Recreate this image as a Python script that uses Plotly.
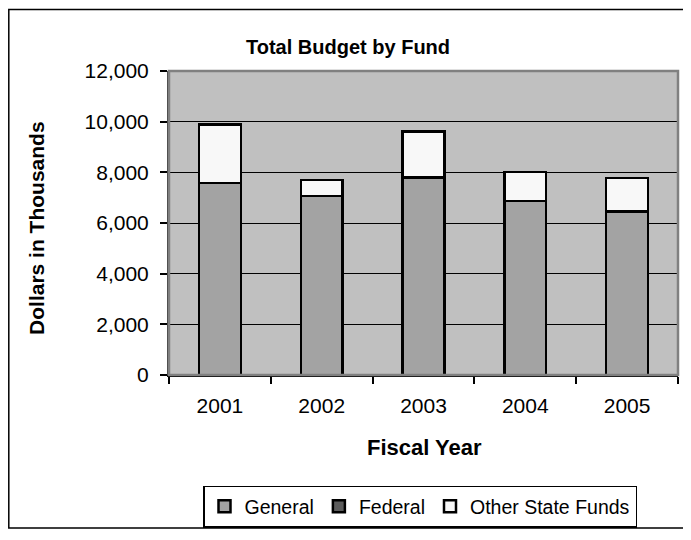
import plotly.graph_objects as go

years = ["2001", "2002", "2003", "2004", "2005"]
general = [7570, 7060, 7800, 6860, 6450]
federal = [0, 0, 0, 0, 0]
other_state = [2310, 640, 1820, 1160, 1320]

chart_title = "Total Budget by Fund"
x_title = "Fiscal Year"
y_title = "Dollars in Thousands"

FONT = "Arial, Liberation Sans, sans-serif"
OFF = 8  # browser body margin
W, H = 691 - OFF, 540 - OFF
# plot area in window pixels
WL, WR, WT, WB = 169, 678, 71, 379
L, R, T, B = WL - OFF, WR - OFF, WT - OFF, WB - OFF


def px_x(p):
    """window pixel x -> paper"""
    return (p - OFF - L) / (R - L)


def px_y(p):
    """window pixel y -> paper"""
    return (B - (p - OFF)) / (B - T)


fig = go.Figure()
fig.add_trace(go.Bar(x=years, y=general, name="General",
                     marker=dict(color="#a3a3a3", line=dict(color="black", width=2.5))))
fig.add_trace(go.Bar(x=years, y=federal, name="Federal",
                     marker=dict(color="#5c5c5c", line=dict(color="black", width=2.5))))
fig.add_trace(go.Bar(x=years, y=other_state, name="Other State Funds",
                     marker=dict(color="#f8f8f8", line=dict(color="black", width=2.5))))

fig.update_layout(
    width=W, height=H,
    margin=dict(l=L, r=W - R, t=T, b=H - B, pad=0),
    barmode="stack",
    bargap=0.59,
    paper_bgcolor="white",
    plot_bgcolor="#c0c0c0",
    font=dict(family=FONT, size=21, color="black"),
    showlegend=True,
    legend=dict(orientation="h", x=px_x(420), xanchor="center",
                y=px_y(491), yanchor="top", traceorder="normal",
                bordercolor="black", borderwidth=1.5,
                font=dict(size=19.5), itemwidth=30,
                tracegroupgap=0, bgcolor="white"),
    xaxis=dict(type="category", tickson="boundaries", ticks="outside",
               ticklen=7, tickwidth=1.5, tickcolor="black",
               showline=True, linecolor="black", linewidth=2,
               showgrid=False, ticklabelstandoff=11,
               tickfont=dict(size=21)),
    yaxis=dict(range=[0, 12000], dtick=2000, tickformat=",",
               ticks="outside", ticklen=7, tickwidth=1.5, tickcolor="black",
               showline=True, linecolor="#404040", linewidth=2,
               showgrid=True, gridcolor="black", gridwidth=1,
               zeroline=False, ticklabelstandoff=7,
               tickfont=dict(size=21)),
    shapes=[
        dict(type="rect", xref="paper", yref="paper", x0=0, x1=1, y0=0, y1=1,
             line=dict(color="#808080", width=2.5), layer="above"),
        dict(type="rect", xref="paper", yref="paper",
             x0=px_x(OFF + 0.8), x1=px_x(685), y0=px_y(OFF + 0.8), y1=px_y(534),
             line=dict(color="black", width=1.5), layer="below"),
    ],
    annotations=[
        dict(text="<b>" + chart_title + "</b>", xref="paper", yref="paper",
             x=px_x(348), y=px_y(47), xanchor="center", yanchor="middle",
             showarrow=False, font=dict(size=20)),
        dict(text="<b>" + x_title + "</b>", xref="paper", yref="paper",
             x=px_x(424), y=px_y(452), xanchor="center", yanchor="middle",
             showarrow=False, font=dict(size=22)),
        dict(text="<b>" + y_title + "</b>", xref="paper", yref="paper",
             x=px_x(37), y=px_y(230), xanchor="center", yanchor="middle",
             textangle=-90, showarrow=False, font=dict(size=21)),
    ],
)

fig.write_html("out.html")
